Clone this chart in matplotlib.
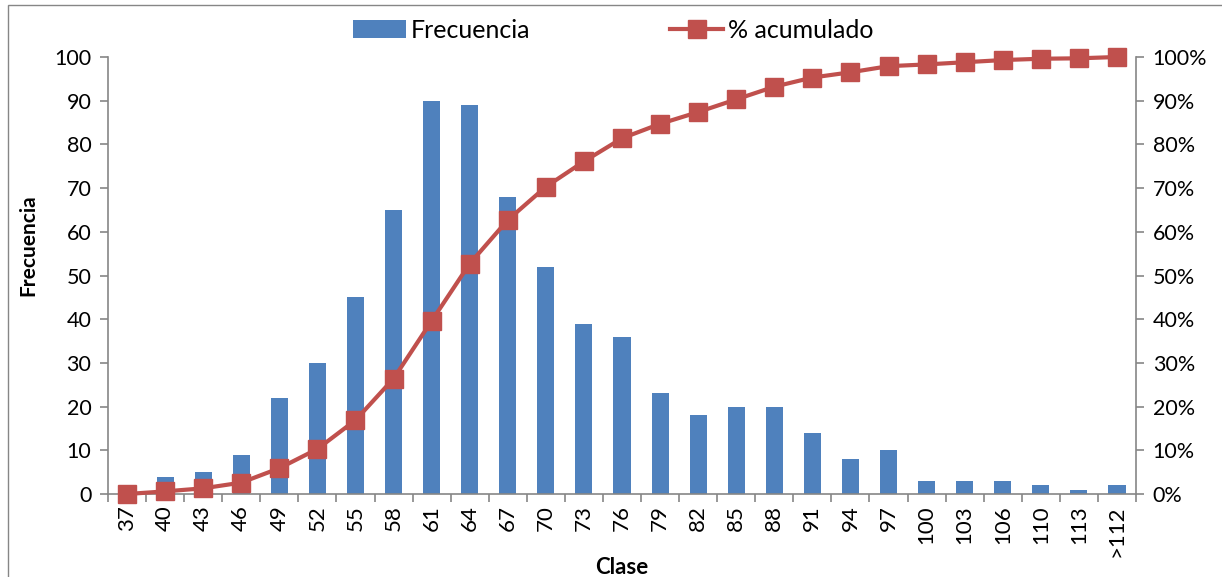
import matplotlib

matplotlib.use("Agg")
import matplotlib.pyplot as plt
import numpy as np
from matplotlib.patches import Rectangle
from matplotlib.ticker import FixedLocator

plt.rcParams["font.family"] = ["Lato", "DejaVu Sans"]

CLASES = ["37", "40", "43", "46", "49", "52", "55", "58", "61", "64", "67", "70", "73", "76",
          "79", "82", "85", "88", "91", "94", "97", "100", "103", "106", "110", "113", ">112"]
FRECUENCIA = [0, 4, 5, 9, 22, 30, 45, 65, 90, 89, 68, 52, 39, 36,
              23, 18, 20, 20, 14, 8, 10, 3, 3, 3, 2, 1, 2]
PCT_ACUM = [0.0, 0.6, 1.3, 2.6, 5.9, 10.3, 16.9, 26.4, 39.6, 52.7, 62.7, 70.3, 76.1, 81.4,
            84.7, 87.4, 90.3, 93.2, 95.3, 96.5, 97.9, 98.3, 98.8, 99.3, 99.6, 99.7, 100.0]

BAR_C = "#4F81BD"
LINE_C = "#C0504D"
AX_C = "#868686"

fig = plt.figure(figsize=(12.22, 5.77), dpi=100)
ax = fig.add_axes([108 / 1222, 1 - 494 / 577, (1136 - 108) / 1222, (494 - 57) / 577])
x = np.arange(len(CLASES))

bars = ax.bar(x, FRECUENCIA, width=0.45, color=BAR_C, zorder=2, label="Frecuencia")
ax.set_xlim(-0.5, len(CLASES) - 0.5)
ax.set_ylim(0, 100)
ax.set_yticks(range(0, 101, 10))
ax.xaxis.set_major_locator(FixedLocator(x))
ax.set_xticklabels(CLASES, rotation=90, fontsize=16)
ax.xaxis.set_minor_locator(FixedLocator(np.arange(-0.5, len(CLASES), 1)))
ax.tick_params(axis="x", which="major", length=0, pad=8)
ax.tick_params(axis="x", which="minor", length=6, color=AX_C, width=1.2)
ax.tick_params(axis="y", length=6, color=AX_C, width=1.2, labelsize=15.5, pad=6)
for s in ("top", "right"):
    ax.spines[s].set_visible(False)
for s in ("left", "bottom"):
    ax.spines[s].set_color(AX_C)
    ax.spines[s].set_linewidth(1.2)
ax.set_ylabel("Frecuencia", fontsize=15, fontweight="bold")
ax.yaxis.set_label_coords(-0.068, 0.57)
ax.set_xlabel("Clase", fontsize=16, fontweight="bold", labelpad=0)

ax2 = ax.twinx()
line, = ax2.plot(x, PCT_ACUM, color=LINE_C, lw=3, marker="s", markersize=13.5,
                 markeredgecolor=LINE_C, zorder=3, clip_on=False, label="% acumulado")
ax2.set_ylim(0, 100)
ax2.set_yticks(range(0, 101, 10))
ax2.set_yticklabels([f"{v}%" for v in range(0, 101, 10)])
ax2.tick_params(axis="y", length=6, color=AX_C, width=1.2, labelsize=15.5, pad=6)
for s in ("top", "left", "bottom"):
    ax2.spines[s].set_visible(False)
ax2.spines["right"].set_color(AX_C)
ax2.spines["right"].set_linewidth(1.2)

fig.legend([bars, line], ["Frecuencia", "% acumulado"], loc="center", ncol=2,
           bbox_to_anchor=(0.502, 1 - 30 / 577), frameon=False, fontsize=18,
           columnspacing=5.6, handlelength=2.1, handletextpad=0.2)

fig.patches.append(Rectangle((8 / 1222, -0.1), 1.2, 1.1 - 5 / 577, transform=fig.transFigure,
                             fill=False, edgecolor=AX_C, lw=1))

fig.savefig("out.png", dpi=100)
